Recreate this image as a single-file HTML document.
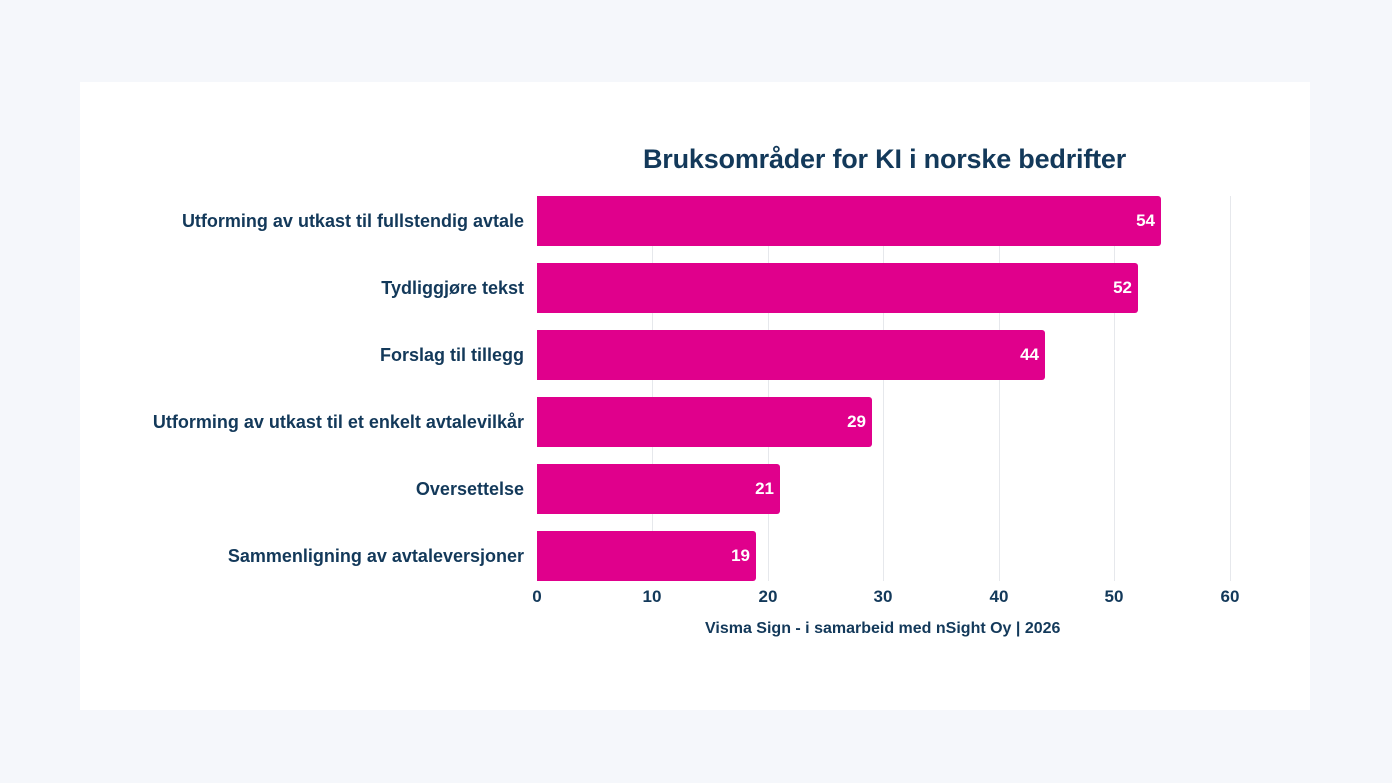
<!DOCTYPE html>
<html><head><meta charset="utf-8"><style>
body{margin:0;width:1392px;height:783px;background:#f5f7fb;font-family:"Liberation Sans",sans-serif;color:#13395a;position:relative;overflow:hidden}
.card{position:absolute;left:80px;top:82px;width:1230px;height:628px;background:#fff}
.a{position:absolute;font-weight:bold;white-space:nowrap}
.g{position:absolute;top:196px;height:385px;width:1px;background:#e6e8ec}
.b{position:absolute;left:537px;height:50px;background:#e0008c;border-radius:0 3px 3px 0}
.v{position:absolute;right:6px;top:0;line-height:50px;color:#fff;font-weight:bold;font-size:17px}
.l{position:absolute;right:868px;font-weight:bold;font-size:18px;line-height:50px;text-align:right;white-space:nowrap}
.t{position:absolute;top:587px;font-weight:bold;font-size:17px;width:40px;margin-left:-20px;text-align:center}
</style></head><body>
<div class="card"></div>
<div class="a" style="left:643px;top:144px;font-size:27px;letter-spacing:-0.2px">Bruksområder for KI i norske bedrifter</div>
<div class="g" style="left:652px"></div><div class="g" style="left:768px"></div><div class="g" style="left:883px"></div><div class="g" style="left:999px"></div><div class="g" style="left:1114px"></div><div class="g" style="left:1230px"></div>
<div class="b" style="top:196px;width:624px"><span class="v">54</span></div>
<div class="b" style="top:263px;width:601px"><span class="v">52</span></div>
<div class="b" style="top:330px;width:508px"><span class="v">44</span></div>
<div class="b" style="top:397px;width:335px"><span class="v">29</span></div>
<div class="b" style="top:464px;width:243px"><span class="v">21</span></div>
<div class="b" style="top:531px;width:219px"><span class="v">19</span></div>
<div class="l" style="top:196px">Utforming av utkast til fullstendig avtale</div>
<div class="l" style="top:263px">Tydliggjøre tekst</div>
<div class="l" style="top:330px">Forslag til tillegg</div>
<div class="l" style="top:397px">Utforming av utkast til et enkelt avtalevilkår</div>
<div class="l" style="top:464px">Oversettelse</div>
<div class="l" style="top:531px">Sammenligning av avtaleversjoner</div>
<div class="t" style="left:537px">0</div><div class="t" style="left:652px">10</div><div class="t" style="left:768px">20</div><div class="t" style="left:883px">30</div><div class="t" style="left:999px">40</div><div class="t" style="left:1114px">50</div><div class="t" style="left:1230px">60</div>
<div class="a" style="left:705px;top:620px;font-size:16px">Visma Sign - i samarbeid med nSight Oy | 2026</div>
</body></html>
